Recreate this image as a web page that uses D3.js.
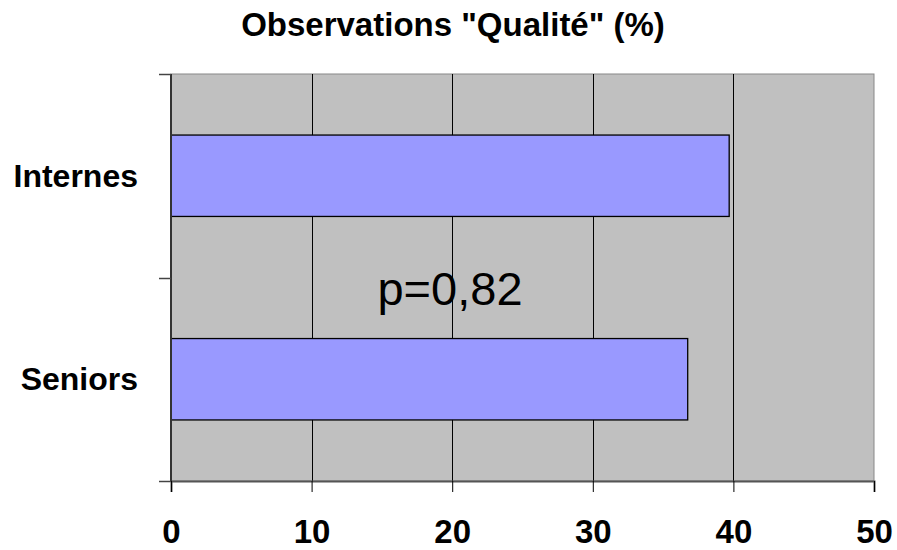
<!DOCTYPE html>
<html lang="fr">
    <head>
        <meta charset="utf-8">
        <title>Observations Qualité</title>
        <script src="https://d3js.org/d3.v7.min.js"></script>
        <style>
            body { margin: 0; background: #ffffff; }
            text { font-family: Arial, "Liberation Sans", sans-serif; }
        </style>
    </head>
    <body>
        <script type="text/javascript">
            const categories = ["Internes", "Seniors"];
            const values = [39.7, 36.75];
            const xTicks = [0, 10, 20, 30, 40, 50];
            const titleText = 'Observations "Qualité" (%)';
            const noteText = "p=0,82";

            var width = 897,
                height = 550,
                plotLeft = 171,
                plotRight = 874,
                plotTop = 74,
                plotBottom = 481;

            var svg = d3.select("body").append("svg")
                .attr("width", width)
                .attr("height", height);

            var x = d3.scaleLinear().domain([0, 50]).range([plotLeft, plotRight]);
            var y = d3.scaleBand().domain(categories).range([plotTop, plotBottom])
                .paddingInner(0.6).paddingOuter(0.3);

            // plot background
            svg.append("rect")
                .attr("x", plotLeft).attr("y", plotTop)
                .attr("width", plotRight - plotLeft).attr("height", plotBottom - plotTop)
                .style("fill", "#c0c0c0")
                .attr("stroke", "#888888")
                .attr("stroke-width", 1);

            // vertical grid lines
            svg.append("g").selectAll("line")
                .data(xTicks.slice(1, -1))
                .join("line")
                .attr("x1", d => Math.round(x(d)) + 0.5)
                .attr("x2", d => Math.round(x(d)) + 0.5)
                .attr("y1", plotTop).attr("y2", plotBottom)
                .attr("stroke", "#000000")
                .attr("stroke-width", 1);

            // bars
            svg.append("g").selectAll("rect")
                .data(categories)
                .join("rect")
                .attr("x", x(0))
                .attr("y", d => y(d))
                .attr("width", (d, i) => x(values[i]) - x(0))
                .attr("height", y.bandwidth())
                .style("fill", "#9999ff")
                .attr("stroke", "#000000")
                .attr("stroke-width", 1.3);

            // x axis
            var xAxis = svg.append("g")
                .attr("transform", "translate(0," + plotBottom + ")")
                .call(d3.axisBottom(x).tickValues(xTicks).tickSize(11).tickPadding(28));
            xAxis.select(".domain").attr("stroke", "#555555").attr("stroke-width", 2);
            xAxis.selectAll(".tick line").attr("stroke", "#000000");
            xAxis.selectAll("text")
                .style("font-size", "33px")
                .style("font-weight", "bold")
                .attr("fill", "#000000");

            // y axis: ticks at category boundaries
            var yBounds = [plotTop, (plotTop + plotBottom) / 2, plotBottom];
            svg.append("line")
                .attr("x1", plotLeft).attr("x2", plotLeft)
                .attr("y1", plotTop).attr("y2", plotBottom)
                .attr("stroke", "#333333").attr("stroke-width", 2);
            svg.append("g").selectAll("line")
                .data(yBounds)
                .join("line")
                .attr("x1", plotLeft - 12).attr("x2", plotLeft)
                .attr("y1", d => Math.round(d) + 0.5).attr("y2", d => Math.round(d) + 0.5)
                .attr("stroke", "#444444").attr("stroke-width", 1.5);

            svg.append("g").selectAll("text")
                .data(categories)
                .join("text")
                .attr("x", 138)
                .attr("y", d => y(d) + y.bandwidth() / 2 + 11)
                .attr("text-anchor", "end")
                .style("font-size", "32px")
                .style("font-weight", "bold")
                .text(d => d);

            // title
            svg.append("text")
                .attr("x", 453).attr("y", 36)
                .attr("text-anchor", "middle")
                .style("font-size", "33px")
                .style("font-weight", "bold")
                .text(titleText);

            // p-value note
            svg.append("text")
                .attr("x", 450).attr("y", 305)
                .attr("text-anchor", "middle")
                .style("font-size", "47px")
                .text(noteText);
        </script>
    </body>
</html>
